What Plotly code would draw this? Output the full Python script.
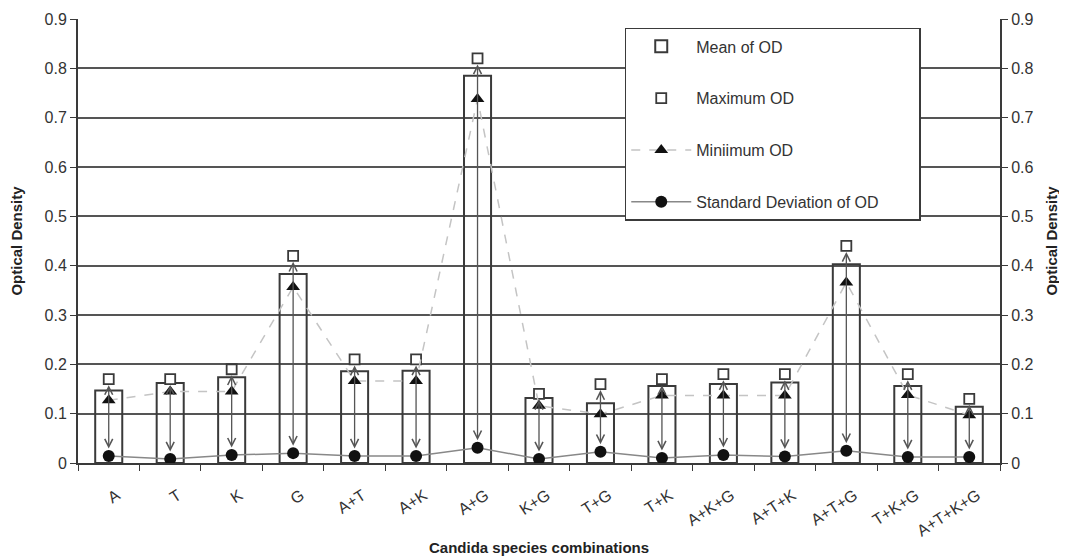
import plotly.graph_objects as go

categories = ["A", "T", "K", "G", "A+T", "A+K", "A+G", "K+G", "T+G", "T+K",
              "A+K+G", "A+T+K", "A+T+G", "T+K+G", "A+T+K+G"]
mean_od = [0.147, 0.162, 0.174, 0.383, 0.186, 0.187, 0.785, 0.132, 0.121, 0.156,
           0.160, 0.163, 0.403, 0.156, 0.114]
max_od = [0.17, 0.17, 0.19, 0.42, 0.21, 0.21, 0.82, 0.14, 0.16, 0.17,
          0.18, 0.18, 0.44, 0.18, 0.13]
min_od = [0.127, 0.145, 0.145, 0.357, 0.166, 0.166, 0.738, 0.116, 0.099, 0.137,
          0.137, 0.137, 0.366, 0.138, 0.097]
sd_od = [0.014, 0.008, 0.016, 0.020, 0.014, 0.014, 0.031, 0.008, 0.023, 0.010,
         0.016, 0.013, 0.025, 0.012, 0.012]
y_ticks = [0, 0.1, 0.2, 0.3, 0.4, 0.5, 0.6, 0.7, 0.8, 0.9]

DARK = "#3a3a3a"
FONT = "Liberation Sans, Arial, sans-serif"
PAD = "\u00a0" * 8

fig = go.Figure()
fig.add_trace(go.Bar(
    x=categories, y=mean_od, name="Mean of OD", legendgroup="g1",
    marker=dict(color="rgba(255,255,255,0)", line=dict(color=DARK, width=2)),
))
fig.add_trace(go.Scatter(
    x=categories, y=max_od, name="Maximum OD", mode="markers", legendgroup="g2",
    marker=dict(symbol="square", size=10, color="white", line=dict(color=DARK, width=1.8)),
))
fig.add_trace(go.Scatter(
    x=categories, y=min_od, name="Miniimum OD", mode="lines+markers", legendgroup="g3",
    line=dict(color="#c4c4c4", width=1.5, dash="dash"),
    marker=dict(symbol="triangle-up", size=12, color="#111111"),
))
fig.add_trace(go.Scatter(
    x=categories, y=sd_od, name="Standard Deviation of OD" + PAD, mode="lines+markers",
    legendgroup="g4",
    line=dict(color="#888888", width=1.5),
    marker=dict(symbol="circle", size=12, color="#111111"),
))
# invisible trace so the right-hand axis renders
fig.add_trace(go.Scatter(x=categories, y=mean_od, yaxis="y2", mode="markers",
                         marker=dict(opacity=0), showlegend=False, hoverinfo="skip"))

for i, (hi, lo) in enumerate(zip(max_od, sd_od)):
    fig.add_annotation(
        x=i, y=hi, ax=i, ay=lo, xref="x", yref="y", axref="x", ayref="y",
        text="", showarrow=True, arrowside="end+start",
        arrowhead=5, startarrowhead=5, arrowsize=1.2, startarrowsize=1.2,
        arrowwidth=1.3, arrowcolor="#555555", standoff=6, startstandoff=6,
    )

fig.add_annotation(
    text="<b>Candida species combinations</b>", xref="paper", yref="paper",
    x=0.5, y=-0.191, xanchor="center", yanchor="middle", showarrow=False,
    font=dict(size=15, color="#222"),
)

axis_common = dict(
    range=[0, 0.9], tickvals=y_ticks, ticktext=[f"{v:g}" for v in y_ticks],
    ticks="outside", ticklen=6, tickcolor=DARK, showline=True, linecolor=DARK,
    linewidth=2, tickfont=dict(size=16, color="#333"), automargin=False,
)

fig.update_layout(
    width=1067, height=559,
    margin=dict(l=70, r=75, t=11, b=104),
    paper_bgcolor="white", plot_bgcolor="white",
    font=dict(family=FONT, color="#333"),
    bargap=0.56,
    xaxis=dict(
        type="category", range=[-0.5, len(categories) - 0.5],
        showline=True, linecolor=DARK, linewidth=2,
        ticks="outside", tickson="boundaries", ticklen=6, tickcolor=DARK,
        tickangle=-33, tickfont=dict(size=16, color="#333"), showgrid=False,
        ticklabelstandoff=15, ticklabelshift=8,
        automargin=False,
    ),
    yaxis=dict(
        **axis_common, showgrid=True, gridcolor="#555555", gridwidth=1.5,
        title=dict(text="<b>Optical Density</b>", font=dict(size=15, color="#222"), standoff=22),
        zeroline=False,
    ),
    yaxis2=dict(
        **axis_common, overlaying="y", side="right", showgrid=False, zeroline=False,
        title=dict(text="<b>Optical Density</b>", font=dict(size=15, color="#222"), standoff=14),
    ),
    legend=dict(
        x=0.593, y=0.98, xanchor="left", yanchor="top",
        bgcolor="white", bordercolor=DARK, borderwidth=1.5,
        font=dict(size=16, color="#333"), tracegroupgap=28, itemwidth=60,
    ),
    showlegend=True,
)

fig.write_html("out.html")
